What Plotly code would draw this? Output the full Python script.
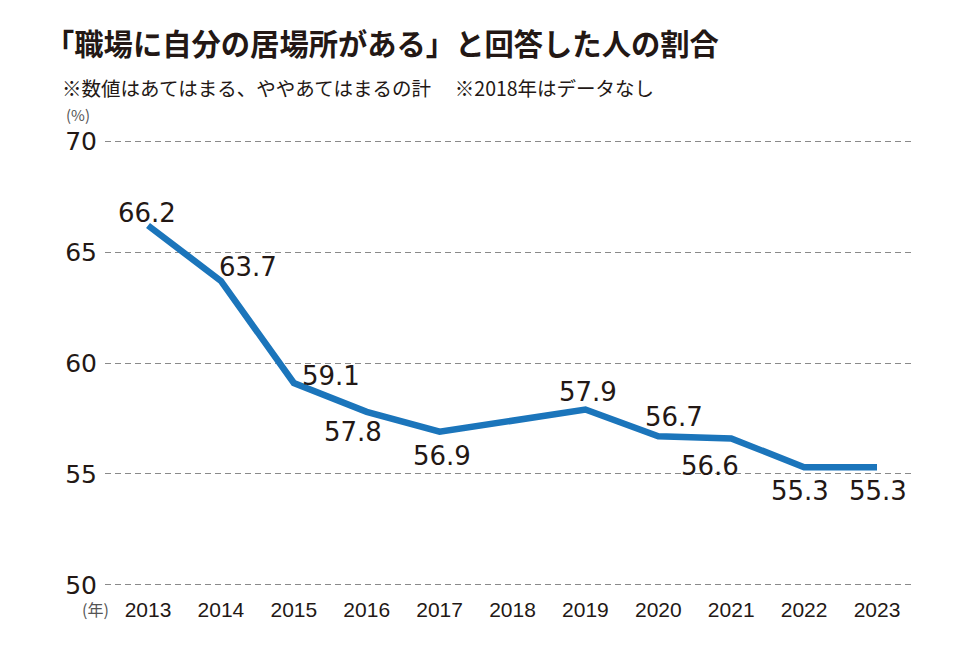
import plotly.graph_objects as go

# ---- data ----
years = [2013, 2014, 2015, 2016, 2017, 2019, 2020, 2021, 2022, 2023]
values = [66.2, 63.7, 59.1, 57.8, 56.9, 57.9, 56.7, 56.6, 55.3, 55.3]
tick_years = [2013, 2014, 2015, 2016, 2017, 2018, 2019, 2020, 2021, 2022, 2023]
tick_labels = [str(y) for y in tick_years]
y_ticks = [50, 55, 60, 65, 70]

title = "「職場に自分の居場所がある」と回答した人の割合"
subtitle = "※数値はあてはまる、ややあてはまるの計　 ※2018年はデータなし"

# label pixel offsets (dx right, dy up)
label_offsets = [(-1, 13), (27, 14), (37, 7), (-14, -20), (2, -24),
                 (3, 18), (16, 19), (-21, -28), (-4, -24), (1, -24)]

TXT = "#231815"
JP = "Noto Sans CJK JP"
NUM = "DejaVu Sans"

# page body has an 8px margin; work in figure coordinates
OFF = 8
W, H = 980 - 2 * OFF, 653 - 2 * OFF
L = 105 - OFF
R = W - (912 - OFF)
T = (141 - OFF) - 2.2
B = H - (585 - OFF) - 2.2
ph = H - T - B
pw = W - L - R

def px_x(px):  # reference-screen pixel -> paper
    return (px - OFF - L) / pw

def px_y(py):
    return (H - B - (py - OFF)) / ph

fig = go.Figure()
fig.add_trace(go.Scatter(
    x=years, y=values, mode="lines",
    line=dict(color="#1b75bb", width=6.5),
    hoverinfo="skip", showlegend=False,
))

annotations = []
for x, v, (dx, dy) in zip(years, values, label_offsets):
    annotations.append(dict(
        x=x, y=v, xref="x", yref="y", text=f"{v:.1f}", showarrow=False,
        xshift=dx, yshift=dy, xanchor="center", yanchor="middle",
        font=dict(family=NUM, size=26, color=TXT),
    ))

annotations.append(dict(
    x=px_x(60), y=px_y(87), xref="paper", yref="paper", text=subtitle,
    showarrow=False, xanchor="left", yanchor="middle",
    font=dict(family=JP, size=19.5, color=TXT),
))
annotations.append(dict(
    x=px_x(64), y=px_y(114), xref="paper", yref="paper", text="(%)",
    showarrow=False, xanchor="left", yanchor="middle",
    font=dict(family=JP, size=15, color="#555555"),
))
annotations.append(dict(
    x=px_x(80), y=px_y(609), xref="paper", yref="paper", text="(年)",
    showarrow=False, xanchor="left", yanchor="middle",
    font=dict(family=JP, size=16, color="#555555"),
))

fig.update_layout(
    width=W, height=H,
    margin=dict(l=L, r=R, t=T, b=B),
    paper_bgcolor="white", plot_bgcolor="white",
    title=dict(
        text=f"<b>{title}</b>", xref="container", yref="container",
        x=(45 - OFF) / W, y=1 - (45 - OFF) / H, xanchor="left", yanchor="middle",
        font=dict(family=JP, size=29.3, color=TXT),
    ),
    xaxis=dict(
        range=[2012.41, 2023.48], tickmode="array",
        tickvals=tick_years, ticktext=tick_labels,
        showgrid=False, zeroline=False, showline=False, ticks="",
        ticklabelstandoff=8,
        tickfont=dict(family="Liberation Sans", size=21, color=TXT),
    ),
    yaxis=dict(
        range=[49.9, 70.1], tickmode="array", tickvals=y_ticks,
        showgrid=True, gridcolor="#8a8a8a", gridwidth=1.2, griddash="6px,4px",
        zeroline=False, showline=False, ticks="", ticklabelstandoff=7,
        tickfont=dict(family=NUM, size=25, color=TXT),
    ),
    annotations=annotations,
)

fig.write_html("out.html")
